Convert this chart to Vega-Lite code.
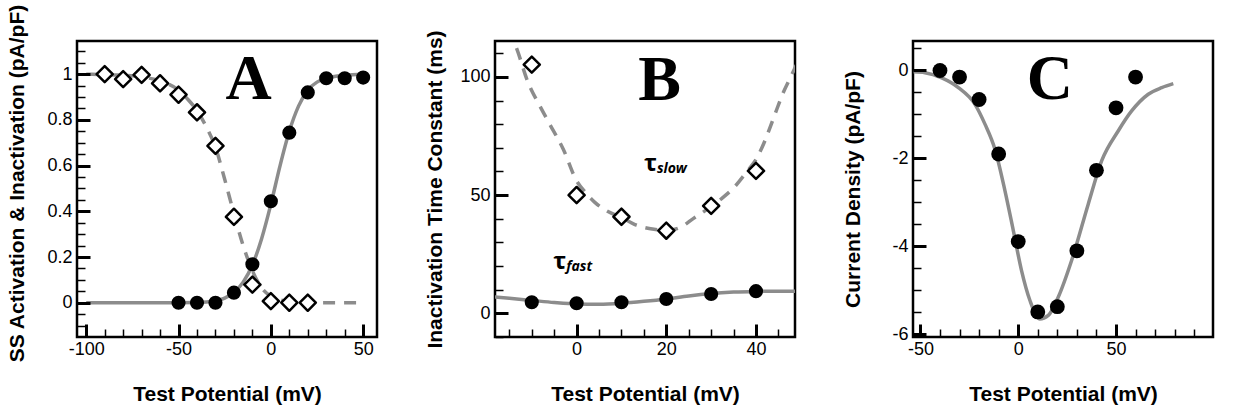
{
  "$schema": "https://vega.github.io/schema/vega-lite/v6.json",
  "padding": {"left": 4, "top": 2, "right": 5, "bottom": 5},
  "background": "white",
  "bounds": "flush",
  "spacing": 118,
  "config": {
    "view": {"stroke": "black", "strokeWidth": 2.5},
    "axis": {
      "domain": false, "grid": false, "labelOverlap": false, "ticks": true, "zindex": 2,
      "labelFont": "Liberation Sans", "labelFontSize": 18, "labelColor": "black",
      "labelExpr": "'' + datum.value",
      "titleFont": "Liberation Sans", "titleFontSize": 21, "titleFontWeight": "bold", "titleColor": "black",
      "tickColor": "black", "tickOpacity": 1
    },
    "axisX": {"titleBaseline": "alphabetic", "labelPadding": 3},
    "axisY": {"titleBaseline": "bottom", "labelPadding": 5}
  },
  "datasets": {
    "aAct": [{"v":-50,"val":0},{"v":-40,"val":0},{"v":-30,"val":0},{"v":-20,"val":0.044},{"v":-10,"val":0.168},{"v":0,"val":0.444},{"v":10,"val":0.744},{"v":20,"val":0.92},{"v":30,"val":0.982},{"v":40,"val":0.982},{"v":50,"val":0.985}],
    "aInact": [{"v":-90,"val":1.0},{"v":-80,"val":0.978},{"v":-70,"val":0.997},{"v":-60,"val":0.96},{"v":-50,"val":0.91},{"v":-40,"val":0.833},{"v":-30,"val":0.686},{"v":-20,"val":0.376},{"v":-10,"val":0.079},{"v":0,"val":0.007},{"v":10,"val":0},{"v":20,"val":0}],
    "aActFit": [{"v":-100,"val":0},{"v":-60,"val":0},{"v":-40,"val":0.001},{"v":-30,"val":0.008},{"v":-25,"val":0.02},{"v":-20,"val":0.045},{"v":-15,"val":0.09},{"v":-10,"val":0.165},{"v":-5,"val":0.28},{"v":0,"val":0.43},{"v":5,"val":0.6},{"v":10,"val":0.75},{"v":15,"val":0.86},{"v":20,"val":0.93},{"v":25,"val":0.965},{"v":30,"val":0.982},{"v":40,"val":0.995},{"v":50,"val":0.999}],
    "aInactFit": [{"v":-100,"val":1.0},{"v":-90,"val":0.998},{"v":-80,"val":0.995},{"v":-70,"val":0.988},{"v":-60,"val":0.97},{"v":-50,"val":0.93},{"v":-45,"val":0.89},{"v":-40,"val":0.84},{"v":-35,"val":0.77},{"v":-30,"val":0.68},{"v":-25,"val":0.54},{"v":-20,"val":0.39},{"v":-15,"val":0.25},{"v":-10,"val":0.14},{"v":-5,"val":0.065},{"v":0,"val":0.028},{"v":5,"val":0.012},{"v":10,"val":0.005},{"v":20,"val":0.001},{"v":30,"val":0},{"v":50,"val":0}],
    "aLabel": [{"v":-12,"val":0.89,"label":"A"}],
    "bSlow": [{"v":-10,"val":105.2},{"v":0,"val":50},{"v":10,"val":40.8},{"v":20,"val":34.9},{"v":30,"val":45.4},{"v":40,"val":60.2}],
    "bFast": [{"v":-10,"val":4.6},{"v":0,"val":4.2},{"v":10,"val":4.6},{"v":20,"val":6.0},{"v":30,"val":8.1},{"v":40,"val":9.3}],
    "bSlowFit": [{"v":-15.5,"val":120},{"v":-13.7,"val":113.6},{"v":-10.8,"val":97.5},{"v":-8,"val":87},{"v":-6,"val":80},{"v":-3,"val":69.5},{"v":0,"val":56},{"v":2,"val":51},{"v":4,"val":47},{"v":7,"val":43},{"v":10,"val":40.5},{"v":13,"val":37.5},{"v":16.5,"val":35.7},{"v":20,"val":35},{"v":23.3,"val":36.5},{"v":26,"val":40},{"v":29,"val":43.8},{"v":32,"val":48},{"v":35,"val":53},{"v":38,"val":60},{"v":40,"val":65},{"v":42,"val":73},{"v":44,"val":83},{"v":46,"val":93},{"v":48,"val":101},{"v":49,"val":105}],
    "bFastFit": [{"v":-18.5,"val":6.9},{"v":-15,"val":6.3},{"v":-10,"val":5.4},{"v":-5,"val":4.5},{"v":0,"val":3.9},{"v":5,"val":3.8},{"v":10,"val":4.2},{"v":15,"val":5.0},{"v":20,"val":6.0},{"v":25,"val":7.3},{"v":30,"val":8.3},{"v":35,"val":8.9},{"v":40,"val":9.2},{"v":45,"val":9.3},{"v":49,"val":9.3}],
    "bLabel": [{"v":18.5,"val":90.3,"label":"B"}],
    "bTau": [{"v":15,"val":60.2,"main":"τ","sub":"slow"},{"v":-5.2,"val":18.7,"main":"τ","sub":"fast"}],
    "cPts": [{"v":-40,"val":0.0},{"v":-30,"val":-0.15},{"v":-20,"val":-0.66},{"v":-10,"val":-1.9},{"v":0,"val":-3.89},{"v":10,"val":-5.49},{"v":20,"val":-5.37},{"v":30,"val":-4.1},{"v":40,"val":-2.27},{"v":50,"val":-0.85},{"v":60,"val":-0.15}],
    "cFit": [{"v":-53.5,"val":-0.03},{"v":-47.7,"val":-0.05},{"v":-39.1,"val":-0.17},{"v":-30.6,"val":-0.39},{"v":-22.1,"val":-0.77},{"v":-17,"val":-1.22},{"v":-11.9,"val":-1.79},{"v":-6.8,"val":-2.73},{"v":-2.5,"val":-3.64},{"v":1.7,"val":-4.55},{"v":6,"val":-5.23},{"v":11,"val":-5.65},{"v":15.4,"val":-5.57},{"v":20.5,"val":-5.15},{"v":27.3,"val":-4.32},{"v":35.8,"val":-3.04},{"v":42.7,"val":-2.05},{"v":51.2,"val":-1.37},{"v":58,"val":-0.92},{"v":66.5,"val":-0.54},{"v":73.4,"val":-0.39},{"v":79.3,"val":-0.3}],
    "cLabel": [{"v":16.2,"val":-0.66,"label":"C"}]
  },
  "hconcat": [
    {
      "width": 300, "height": 296,
      "resolve": {"axis": {"x": "independent", "y": "independent"}},
      "encoding": {
        "x": {"field": "v", "type": "quantitative", "scale": {"domain": [-105, 57.5], "nice": false, "zero": false}, "axis": null},
        "y": {"field": "val", "type": "quantitative", "scale": {"domain": [-0.15, 1.145], "nice": false, "zero": false}, "axis": null}
      },
      "layer": [
        {"data": {"name": "aActFit"}, "mark": {"type": "line", "color": "#8c8c8c", "strokeWidth": 3.5, "interpolate": "monotone", "clip": true},
          "encoding": {
            "x": {"field": "v", "type": "quantitative", "scale": {"domain": [-105, 57.5], "nice": false, "zero": false},
              "axis": {"orient": "bottom", "title": "Test Potential (mV)", "titleY": 76, "values": [-100,-50,0,50], "offset": -13, "ticks": true, "tickSize": 13, "tickWidth": 3, "tickColor": "#000000", "tickOpacity": 1, "tickCap": "butt", "zindex": 2}},
            "y": {"field": "val", "type": "quantitative", "scale": {"domain": [-0.15, 1.145], "nice": false, "zero": false},
              "axis": {"orient": "left", "title": "SS Activation & Inactivation (pA/pF)", "titleX": -63, "titleY": 142, "values": [0,0.2,0.4,0.6,0.8,1], "offset": -13, "ticks": true, "tickSize": 13, "tickWidth": 3, "tickColor": "#000000", "tickOpacity": 1, "tickCap": "butt", "zindex": 2}}
          }},
        {"data": {"name": "aInactFit"}, "mark": {"type": "line", "color": "#8c8c8c", "strokeWidth": 3.5, "strokeDash": [12, 9], "interpolate": "monotone", "clip": true},
          "encoding": {
            "x": {"field": "v", "type": "quantitative", "scale": {"domain": [-105, 57.5], "nice": false, "zero": false},
              "axis": {"orient": "bottom", "title": null, "labels": false, "values": [-100,-90,-80,-70,-60,-50,-40,-30,-20,-10,0,10,20,30,40,50], "offset": -8, "ticks": true, "tickSize": 8, "tickWidth": 1.5, "tickColor": "#000000", "tickOpacity": 1, "tickCap": "butt", "zindex": 2}},
            "y": {"field": "val", "type": "quantitative", "scale": {"domain": [-0.15, 1.145], "nice": false, "zero": false},
              "axis": {"orient": "left", "title": null, "labels": false, "values": [-0.1,-0.05,0,0.05,0.1,0.15,0.2,0.25,0.3,0.35,0.4,0.45,0.5,0.55,0.6,0.65,0.7,0.75,0.8,0.85,0.9,0.95,1,1.05,1.1], "offset": -8, "ticks": true, "tickSize": 8, "tickWidth": 1.5, "tickColor": "#000000", "tickOpacity": 1, "tickCap": "butt", "zindex": 2}}
          }},
        {"data": {"name": "aInact"}, "mark": {"type": "point", "shape": "diamond", "size": 260, "filled": false, "fill": "white", "fillOpacity": 1, "stroke": "black", "strokeWidth": 2.5, "opacity": 1, "strokeJoin": "round"}},
        {"data": {"name": "aAct"}, "mark": {"type": "point", "shape": "circle", "size": 200, "filled": true, "color": "black", "opacity": 1}},
        {"data": {"name": "aLabel"}, "mark": {"type": "text", "font": "Liberation Serif", "fontWeight": "bold", "fontSize": 64, "align": "center", "baseline": "alphabetic", "color": "black"}, "encoding": {"text": {"field": "label"}}}
      ]
    },
    {
      "width": 300, "height": 296,
      "resolve": {"axis": {"x": "independent", "y": "independent"}},
      "encoding": {
        "x": {"field": "v", "type": "quantitative", "scale": {"domain": [-18.2, 48.7], "nice": false, "zero": false}, "axis": null},
        "y": {"field": "val", "type": "quantitative", "scale": {"domain": [-10.1, 115.2], "nice": false, "zero": false}, "axis": null}
      },
      "layer": [
        {"data": {"name": "bFastFit"}, "mark": {"type": "line", "color": "#8c8c8c", "strokeWidth": 3.5, "interpolate": "monotone", "clip": true},
          "encoding": {
            "x": {"field": "v", "type": "quantitative", "scale": {"domain": [-18.2, 48.7], "nice": false, "zero": false},
              "axis": {"orient": "bottom", "title": "Test Potential (mV)", "titleY": 76, "values": [0,20,40], "offset": -13, "ticks": true, "tickSize": 13, "tickWidth": 3, "tickColor": "#000000", "tickOpacity": 1, "tickCap": "butt", "zindex": 2}},
            "y": {"field": "val", "type": "quantitative", "scale": {"domain": [-10.1, 115.2], "nice": false, "zero": false},
              "axis": {"orient": "left", "title": "Inactivation Time Constant (ms)", "titleX": -63, "values": [0,50,100], "offset": -13, "ticks": true, "tickSize": 13, "tickWidth": 3, "tickColor": "#000000", "tickOpacity": 1, "tickCap": "butt", "zindex": 2}}
          }},
        {"data": {"name": "bSlowFit"}, "mark": {"type": "line", "color": "#8c8c8c", "strokeWidth": 3.5, "strokeDash": [12, 9], "interpolate": "monotone", "clip": true},
          "encoding": {
            "x": {"field": "v", "type": "quantitative", "scale": {"domain": [-18.2, 48.7], "nice": false, "zero": false},
              "axis": {"orient": "bottom", "title": null, "labels": false, "values": [-15,-10,-5,0,5,10,15,20,25,30,35,40,45], "offset": -8, "ticks": true, "tickSize": 8, "tickWidth": 1.5, "tickColor": "#000000", "tickOpacity": 1, "tickCap": "butt", "zindex": 2}},
            "y": {"field": "val", "type": "quantitative", "scale": {"domain": [-10.1, 115.2], "nice": false, "zero": false},
              "axis": {"orient": "left", "title": null, "labels": false, "values": [-10,0,10,20,30,40,50,60,70,80,90,100,110], "offset": -8, "ticks": true, "tickSize": 8, "tickWidth": 1.5, "tickColor": "#000000", "tickOpacity": 1, "tickCap": "butt", "zindex": 2}}
          }},
        {"data": {"name": "bSlow"}, "mark": {"type": "point", "shape": "diamond", "size": 260, "filled": false, "fill": "white", "fillOpacity": 1, "stroke": "black", "strokeWidth": 2.5, "opacity": 1, "strokeJoin": "round"}},
        {"data": {"name": "bFast"}, "mark": {"type": "point", "shape": "circle", "size": 200, "filled": true, "color": "black", "opacity": 1}},
        {"data": {"name": "bLabel"}, "mark": {"type": "text", "font": "Liberation Serif", "fontWeight": "bold", "fontSize": 64, "align": "center", "baseline": "alphabetic", "color": "black"}, "encoding": {"text": {"field": "label"}}},
        {"data": {"name": "bTau"}, "mark": {"type": "text", "font": "Open Sans", "fontWeight": "bold", "fontSize": 24, "align": "left", "baseline": "alphabetic", "color": "black"}, "encoding": {"text": {"field": "main"}}},
        {"data": {"name": "bTau"}, "mark": {"type": "text", "font": "Open Sans", "fontWeight": "bold", "fontStyle": "italic", "fontSize": 14, "align": "left", "baseline": "alphabetic", "dx": 13, "dy": 2, "color": "black"}, "encoding": {"text": {"field": "sub"}}}
      ]
    },
    {
      "width": 300, "height": 296,
      "resolve": {"axis": {"x": "independent", "y": "independent"}},
      "encoding": {
        "x": {"field": "v", "type": "quantitative", "scale": {"domain": [-53.8, 99.6], "nice": false, "zero": false}, "axis": null},
        "y": {"field": "val", "type": "quantitative", "scale": {"domain": [-6.06, 0.67], "nice": false, "zero": false}, "axis": null}
      },
      "layer": [
        {"data": {"name": "cFit"}, "mark": {"type": "line", "color": "#8c8c8c", "strokeWidth": 3.5, "interpolate": "monotone", "clip": true},
          "encoding": {
            "x": {"field": "v", "type": "quantitative", "scale": {"domain": [-53.8, 99.6], "nice": false, "zero": false},
              "axis": {"orient": "bottom", "title": "Test Potential (mV)", "titleY": 76, "values": [-50,0,50,100], "offset": -13, "ticks": true, "tickSize": 13, "tickWidth": 3, "tickColor": "#000000", "tickOpacity": 1, "tickCap": "butt", "zindex": 2}},
            "y": {"field": "val", "type": "quantitative", "scale": {"domain": [-6.06, 0.67], "nice": false, "zero": false},
              "axis": {"orient": "left", "title": "Current Density (pA/pF)", "titleX": -63, "values": [-6,-4,-2,0], "offset": -13, "ticks": true, "tickSize": 13, "tickWidth": 3, "tickColor": "#000000", "tickOpacity": 1, "tickCap": "butt", "zindex": 2}}
          }},
        {"data": {"name": "cPts"}, "mark": {"type": "point", "shape": "circle", "size": 220, "filled": true, "color": "black", "opacity": 1},
          "encoding": {
            "x": {"field": "v", "type": "quantitative", "scale": {"domain": [-53.8, 99.6], "nice": false, "zero": false},
              "axis": {"orient": "bottom", "title": null, "labels": false, "values": [-50,-40,-30,-20,-10,0,10,20,30,40,50,60,70,80,90,100], "offset": -8, "ticks": true, "tickSize": 8, "tickWidth": 1.5, "tickColor": "#000000", "tickOpacity": 1, "tickCap": "butt", "zindex": 2}},
            "y": {"field": "val", "type": "quantitative", "scale": {"domain": [-6.06, 0.67], "nice": false, "zero": false},
              "axis": {"orient": "left", "title": null, "labels": false, "values": [-6,-5.5,-5,-4.5,-4,-3.5,-3,-2.5,-2,-1.5,-1,-0.5,0,0.5], "offset": -8, "ticks": true, "tickSize": 8, "tickWidth": 1.5, "tickColor": "#000000", "tickOpacity": 1, "tickCap": "butt", "zindex": 2}}
          }},
        {"data": {"name": "cLabel"}, "mark": {"type": "text", "font": "Liberation Serif", "fontWeight": "bold", "fontSize": 64, "align": "center", "baseline": "alphabetic", "color": "black"}, "encoding": {"text": {"field": "label"}}}
      ]
    }
  ]
}
